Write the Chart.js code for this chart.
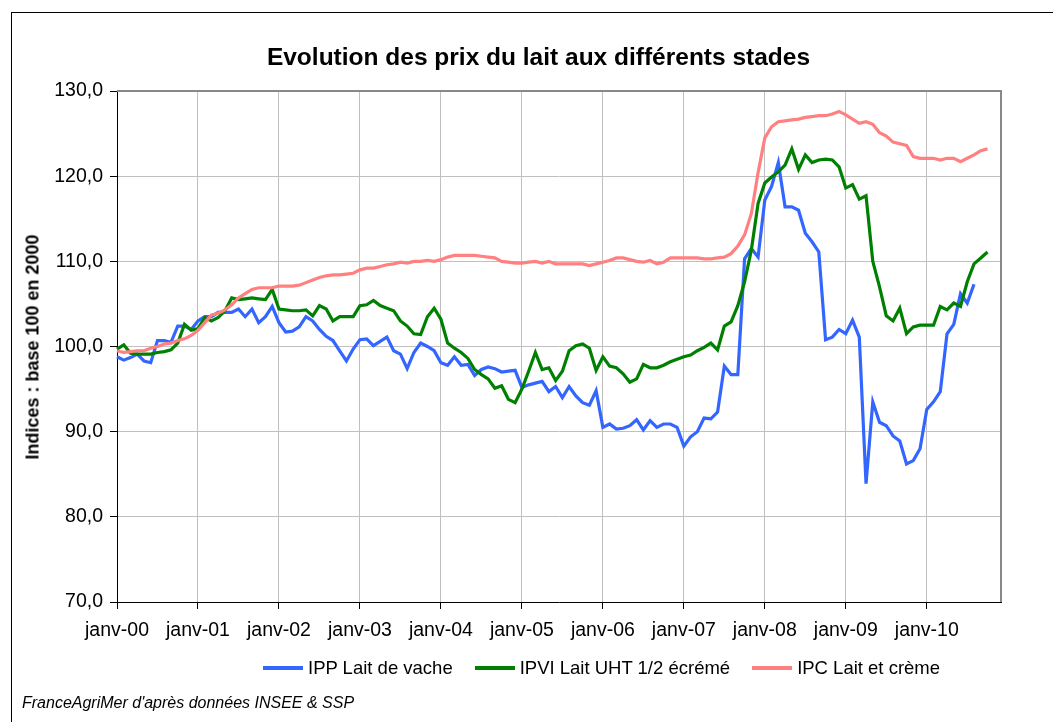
<!DOCTYPE html>
<html>
<head>
<meta charset="utf-8">
<script src="https://cdn.jsdelivr.net/npm/chart.js@4.4.1/dist/chart.umd.min.js"></script>
<style>
  body{margin:0;background:#fff;font-family:"Liberation Sans",Arial,sans-serif;}
  #wrap{position:relative;width:1053px;height:722px;overflow:hidden;background:#fff;}
  .frame{position:absolute;left:11px;top:12px;width:1100px;height:800px;border:1px solid #000;}
  canvas{position:absolute;left:0;top:0;}
  .title{position:absolute;left:0;width:1077px;top:43px;text-align:center;font-weight:bold;font-size:24.5px;color:#000;}
  .ytitle{position:absolute;left:33px;top:347px;transform:translate(-50%,-50%) rotate(-90deg);white-space:nowrap;font-weight:bold;font-size:18px;}
  #legend{position:absolute;left:263px;top:657px;display:flex;align-items:center;font-size:18.5px;white-space:nowrap;}
  .item{display:flex;align-items:center;margin-right:22px;}
  .swatch{width:40px;height:4px;margin-right:5px;}
  .src{position:absolute;left:22px;top:694px;font-style:italic;font-size:16px;}
</style>
</head>
<body>
<div id="wrap">
  <div class="frame"></div>
  <canvas id="chart" width="1053" height="722"></canvas>
  <div class="title">Evolution des prix du lait aux différents stades</div>
  <div class="ytitle">Indices : base 100 en 2000</div>
  <div id="legend"></div>
  <div class="src">FranceAgriMer d'après données INSEE &amp; SSP</div>
</div>
<script>
// mois de janv-00 a déc-10
const MOIS = ['janv','févr','mars','avr','mai','juin','juil','août','sept','oct','nov','déc'];
const LABELS = [];
for(let a=0;a<=10;a++){ for(let m=0;m<12;m++){ LABELS.push(MOIS[m]+'-'+String(a).padStart(2,'0')); } }

const Y_TICKS = [70,80,90,100,110,120,130];

// IPP Lait de vache
const IPP = [
  98.8,98.4,98.7,99.1,98.3,98.1,100.7,100.7,100.5,102.4,
  102.4,102.0,103.0,103.5,103.5,104.0,104.0,104.0,104.4,103.5,
  104.4,102.8,103.5,104.7,102.8,101.7,101.8,102.3,103.5,103.0,
  102.0,101.2,100.7,99.5,98.3,99.7,100.8,100.9,100.1,100.6,
  101.1,99.5,99.1,97.4,99.3,100.4,100.0,99.5,98.1,97.8,
  98.8,97.8,97.9,96.6,97.3,97.6,97.4,97.0,97.1,97.2,
  95.2,95.5,95.7,95.9,94.7,95.3,94.0,95.3,94.2,93.4,
  93.1,94.8,90.5,90.9,90.3,90.4,90.7,91.4,90.2,91.3,
  90.5,90.9,90.9,90.5,88.3,89.4,90.0,91.6,91.5,92.3,
  97.7,96.7,96.7,110.3,111.5,110.5,117.2,118.8,121.6,116.4,
  116.4,116.0,113.3,112.3,111.1,100.8,101.1,102.0,101.5,103.1,
  101.1,83.9,93.5,91.1,90.7,89.5,88.9,86.2,86.6,88.0,
  92.6,93.5,94.7,101.5,102.6,106.2,105.1,107.3
];

// IPVI Lait UHT 1/2 écrémé
const IPVI = [
  99.7,100.2,99.2,99.1,99.1,99.1,99.3,99.4,99.6,100.4,
  102.6,101.9,102.1,103.4,103.0,103.4,104.2,105.7,105.5,105.6,
  105.7,105.6,105.5,106.7,104.4,104.3,104.2,104.2,104.3,103.6,
  104.8,104.4,103.0,103.5,103.5,103.5,104.8,104.9,105.4,104.8,
  104.5,104.2,103.0,102.4,101.5,101.4,103.5,104.5,103.2,100.4,
  99.8,99.3,98.6,97.3,96.7,96.2,95.1,95.4,93.8,93.4,
  95.0,97.1,99.3,97.3,97.5,96.0,97.1,99.5,100.1,100.3,
  99.8,97.2,98.8,97.7,97.5,96.8,95.8,96.2,97.9,97.5,
  97.5,97.8,98.2,98.5,98.8,99.0,99.5,99.9,100.4,99.6,
  102.4,102.9,104.8,107.6,111.3,116.8,119.2,119.9,120.5,121.3,
  123.2,120.8,122.5,121.6,121.9,122.0,121.9,121.1,118.6,119.0,
  117.3,117.7,110.0,107.0,103.6,103.0,104.5,101.5,102.3,102.5,
  102.5,102.5,104.7,104.3,105.1,104.7,107.6,109.7,110.4,111.1
];

// IPC Lait et crème
const IPC = [
  99.5,99.3,99.4,99.5,99.5,99.8,100.0,100.3,100.4,100.7,
  100.9,101.3,101.9,102.8,103.7,103.9,104.3,104.9,105.7,106.2,
  106.7,106.9,106.9,106.9,107.1,107.1,107.1,107.2,107.5,107.8,
  108.1,108.3,108.4,108.4,108.5,108.6,109.0,109.2,109.2,109.4,
  109.6,109.7,109.9,109.8,110.0,110.0,110.1,110.0,110.2,110.5,
  110.7,110.7,110.7,110.7,110.6,110.5,110.4,110.0,109.9,109.8,
  109.8,109.9,110.0,109.8,110.0,109.7,109.7,109.7,109.7,109.7,
  109.5,109.7,109.9,110.1,110.4,110.4,110.2,110.0,109.9,110.1,
  109.7,109.9,110.4,110.4,110.4,110.4,110.4,110.3,110.3,110.4,
  110.5,110.9,111.8,113.1,115.6,120.4,124.5,125.8,126.4,126.5,
  126.6,126.7,126.9,127.0,127.1,127.1,127.3,127.6,127.2,126.7,
  126.2,126.4,126.1,125.1,124.7,124.0,123.8,123.6,122.3,122.1,
  122.1,122.1,121.9,122.1,122.1,121.7,122.1,122.5,123.0,123.2
];

const SERIES = [
  {name:'IPP Lait de vache', data:IPP, color:'#3366ff'},
  {name:'IPVI Lait UHT 1/2 écrémé', data:IPVI, color:'#008000'},
  {name:'IPC Lait et crème', data:IPC, color:'#ff8080'}
];

const FONT = {family:'"Liberation Sans", Arial, sans-serif', size:19.5};

// cadre gris haut/droite de la zone de tracé
const plotBorder = {
  id:'plotBorder',
  afterDraw(c){
    const a=c.chartArea, ctx=c.ctx;
    ctx.save();
    ctx.strokeStyle='#888'; ctx.lineWidth=2;
    ctx.beginPath(); ctx.moveTo(a.left,a.top); ctx.lineTo(a.right,a.top); ctx.lineTo(a.right,a.bottom); ctx.stroke();
    ctx.restore();
  }
};

new Chart(document.getElementById('chart'), {
  type:'line',
  data:{
    labels:LABELS,
    datasets:SERIES.map(function(s,i){
      return {label:s.name, data:s.data, borderColor:s.color, backgroundColor:s.color,
              borderWidth:3.2, pointRadius:0, tension:0, fill:false, order:SERIES.length-i};
    })
  },
  options:{
    responsive:false, animation:false,
    layout:{padding:{top:91,right:52,left:0,bottom:0}},
    plugins:{legend:{display:false}, tooltip:{enabled:false}},
    scales:{
      x:{
        type:'category', offset:false,
        grid:{color:'#c0c0c0', tickLength:7, tickColor:'#000'},
        border:{color:'#000', width:1},
        ticks:{autoSkip:false, maxRotation:0, minRotation:0, padding:10, color:'#000', font:FONT,
          callback:function(v,i){ return i%12===0 ? LABELS[i] : null; }},
        afterFit:function(s){ s.height=120; }
      },
      y:{
        min:Y_TICKS[0], max:Y_TICKS[Y_TICKS.length-1],
        afterBuildTicks:function(s){ s.ticks=Y_TICKS.map(function(v){return {value:v};}); },
        grid:{color:'#c0c0c0', tickLength:7, tickColor:'#000'},
        border:{color:'#000', width:1},
        ticks:{padding:7, color:'#000', font:FONT,
          callback:function(v){ return Number(v).toFixed(1).replace('.',','); }},
        afterFit:function(s){ s.width=117; }
      }
    }
  },
  plugins:[plotBorder]
});

document.getElementById('legend').innerHTML = SERIES.map(function(s){
  return '<div class="item"><span class="swatch" style="background:'+s.color+'"></span>'+s.name+'</div>';
}).join('');
</script>
</body>
</html>
